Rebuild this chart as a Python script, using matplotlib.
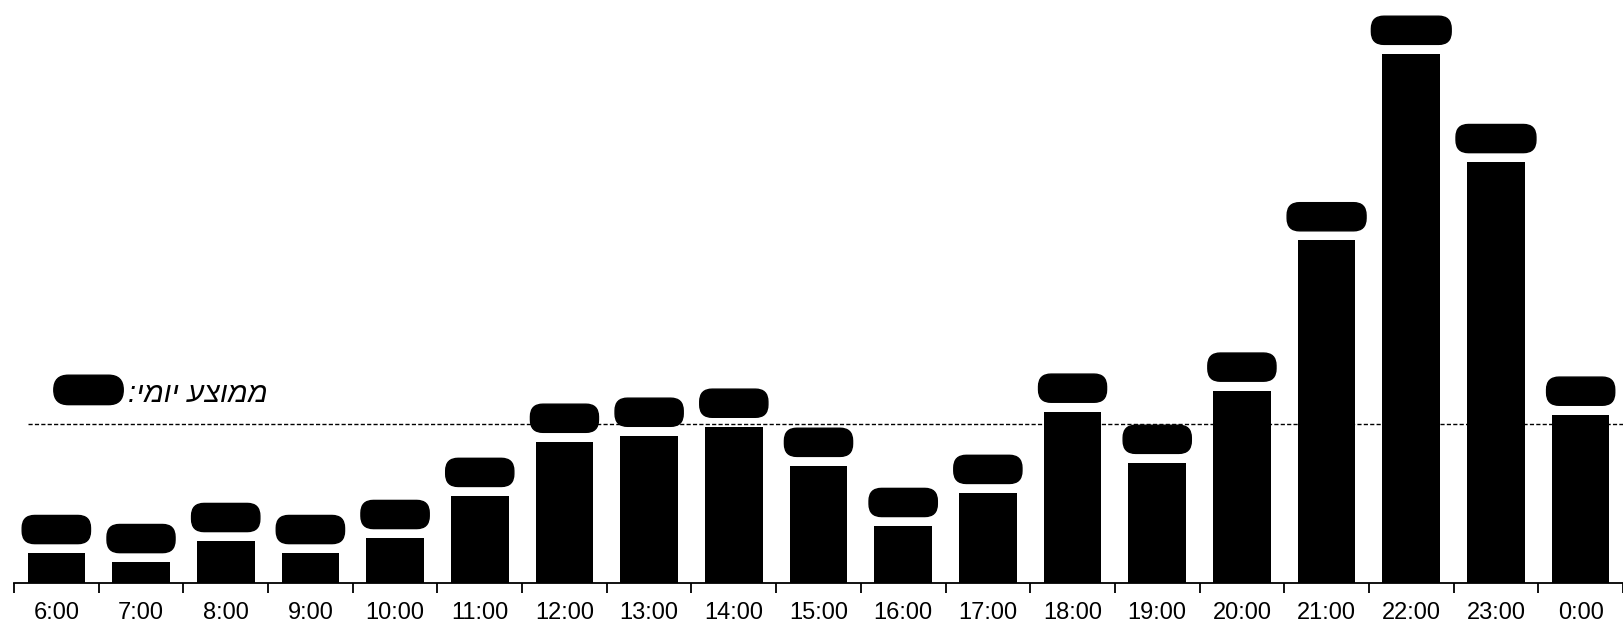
import matplotlib
matplotlib.use("Agg")
import matplotlib.pyplot as plt
import numpy as np

plt.rcParams['font.family'] = ['Liberation Sans', 'DejaVu Sans']

# Share of daily activity per hour (%)
hours = ["6:00", "7:00", "8:00", "9:00", "10:00", "11:00", "12:00", "13:00",
         "14:00", "15:00", "16:00", "17:00", "18:00", "19:00", "20:00",
         "21:00", "22:00", "23:00", "0:00"]
shares = [1.0, 0.7, 1.4, 1.0, 1.5, 2.9, 4.7, 4.9, 5.2, 3.9, 1.9, 3.0,
          5.7, 4.0, 6.4, 11.4, 17.6, 14.0, 5.6]
daily_avg = 5.3
avg_caption = "ממוצע יומי:"

W, H = 1623, 624
fig = plt.figure(figsize=(W / 100, H / 100), dpi=100)
ax = fig.add_axes([14 / W, 41 / H, 1 - 14 / W, 1 - 41 / H])

x = np.arange(len(hours))
ax.bar(x, shares, width=0.68, color="black", zorder=2)

# value labels, blacked out
for xi, v in zip(x, shares):
    ax.annotate(f" {v:.1f}% ", (xi, v), xytext=(0, 10), textcoords="offset points",
                ha="center", va="bottom", fontsize=15, fontweight="bold",
                color="black",
                bbox=dict(boxstyle="round,pad=0.22,rounding_size=0.6",
                          fc="black", ec="black"))

# daily average line
ax.hlines(daily_avg, -0.33, len(hours), colors="black", linestyles=(0, (3, 1.6)),
          linewidth=1.0, zorder=1)

# caption: Hebrew is laid out right-to-left, so the glyph order is reversed
cap_visual = avg_caption[::-1]
ax.text(2.49, daily_avg + 0.72, cap_visual, ha="right", va="baseline",
        fontsize=21, fontstyle="italic", color="black")
ax.text(0.38, daily_avg + 1.12, f" {daily_avg:.1f}% ", ha="center", va="center",
        fontsize=15, fontweight="bold", color="black",
        bbox=dict(boxstyle="round,pad=0.25,rounding_size=0.7", fc="black", ec="black"))

ax.set_xlim(-0.5, -0.5 + (W - 14) / 85.3)
ax.set_ylim(0, 583 / (159.4 / daily_avg))

for side in ("left", "right", "top"):
    ax.spines[side].set_visible(False)
ax.spines["bottom"].set_linewidth(1.3)
ax.spines["bottom"].set_zorder(3)

ax.set_yticks([])
ax.set_xticks(x)
ax.set_xticklabels(hours, fontsize=17)
ax.tick_params(axis="x", which="major", length=0, pad=14)
ax.set_xticks(np.arange(-0.5, len(hours) + 0.5, 1), minor=True)
ax.tick_params(axis="x", which="minor", length=7, width=1.3, direction="out")

fig.savefig("out.png", dpi=100, facecolor="white")
